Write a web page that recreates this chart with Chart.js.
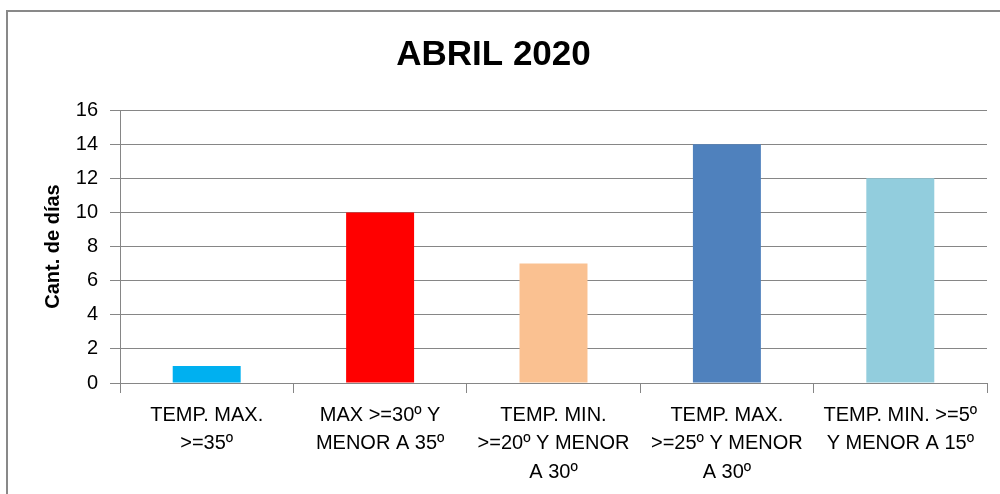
<!DOCTYPE html>
<html>
<head>
<meta charset="utf-8">
<script src="https://cdn.jsdelivr.net/npm/chart.js@4"></script>
<style>
    body { margin: 0; background: #fff; }
    #wrap { width: 1000px; height: 494px; position: relative; }
</style>
</head>
<body>
<div id="wrap"><canvas id="abrilChart"></canvas></div>
<script>
const chartTitle = 'ABRIL 2020';
const yAxisTitle = 'Cant. de días';
const categories = [
    ['TEMP. MAX.', '>=35º'],
    ['MAX >=30º Y', 'MENOR A 35º'],
    ['TEMP. MIN.', '>=20º Y MENOR', 'A 30º'],
    ['TEMP. MAX.', '>=25º Y MENOR', 'A 30º'],
    ['TEMP. MIN. >=5º', 'Y MENOR A 15º']
];
const dayCounts = [1, 10, 7, 14, 12];
const barColors = ['#00B0F0', '#FF0000', '#FAC191', '#4F81BD', '#92CDDD'];
const yTicks = { min: 0, max: 16, step: 2 };

const axisGray = '#868686';
const fontFamily = "'Liberation Sans', Arial, sans-serif";

// outer frame like the spreadsheet chart border
const framePlugin = {
    id: 'frame',
    beforeDraw(chart) {
        const ctx = chart.ctx;
        ctx.save();
        ctx.fillStyle = '#fff';
        ctx.fillRect(0, 0, chart.width, chart.height);
        ctx.strokeStyle = '#898989';
        ctx.lineWidth = 2;
        ctx.strokeRect(7, 11, chart.width + 20, chart.height + 20);
        ctx.restore();
    }
};

new Chart(document.getElementById('abrilChart'), {
    type: 'bar',
    data: {
        labels: categories,
        datasets: [{
            label: yAxisTitle,
            data: dayCounts,
            backgroundColor: barColors,
            borderWidth: 0,
            barPercentage: 0.392,
            categoryPercentage: 1
        }]
    },
    options: {
        responsive: true,
        maintainAspectRatio: false,
        animation: false,
        layout: { padding: { left: 0, right: 13, top: 0, bottom: 0 } },
        plugins: {
            legend: { display: false },
            tooltip: { enabled: false },
            title: {
                display: true,
                text: chartTitle,
                color: '#000',
                font: { family: fontFamily, size: 35, weight: 'bold', lineHeight: 1.2 },
                padding: { top: 34, bottom: 34 }
            }
        },
        scales: {
            x: {
                grid: {
                    display: true,
                    drawOnChartArea: false,
                    drawTicks: true,
                    tickLength: 10,
                    color: axisGray,
                    offset: true
                },
                border: { color: axisGray, width: 1 },
                ticks: {
                    color: '#000',
                    font: { family: fontFamily, size: 20, lineHeight: 1.425 },
                    padding: 8,
                    maxRotation: 0,
                    autoSkip: false
                },
                afterFit(scale) { scale.height = 111; }
            },
            y: {
                min: yTicks.min,
                max: yTicks.max,
                grid: { color: axisGray, tickLength: 10 },
                border: { color: axisGray, width: 1 },
                ticks: {
                    stepSize: yTicks.step,
                    color: '#000',
                    font: { family: fontFamily, size: 20 },
                    padding: 12
                },
                title: {
                    display: true,
                    text: yAxisTitle,
                    color: '#000',
                    font: { family: fontFamily, size: 20, weight: 'bold', lineHeight: 1.2 },
                    padding: { top: 41, bottom: 0 }
                },
                afterFit(scale) { scale.width = 120; }
            }
        }
    },
    plugins: [framePlugin]
});
</script>
</body>
</html>
